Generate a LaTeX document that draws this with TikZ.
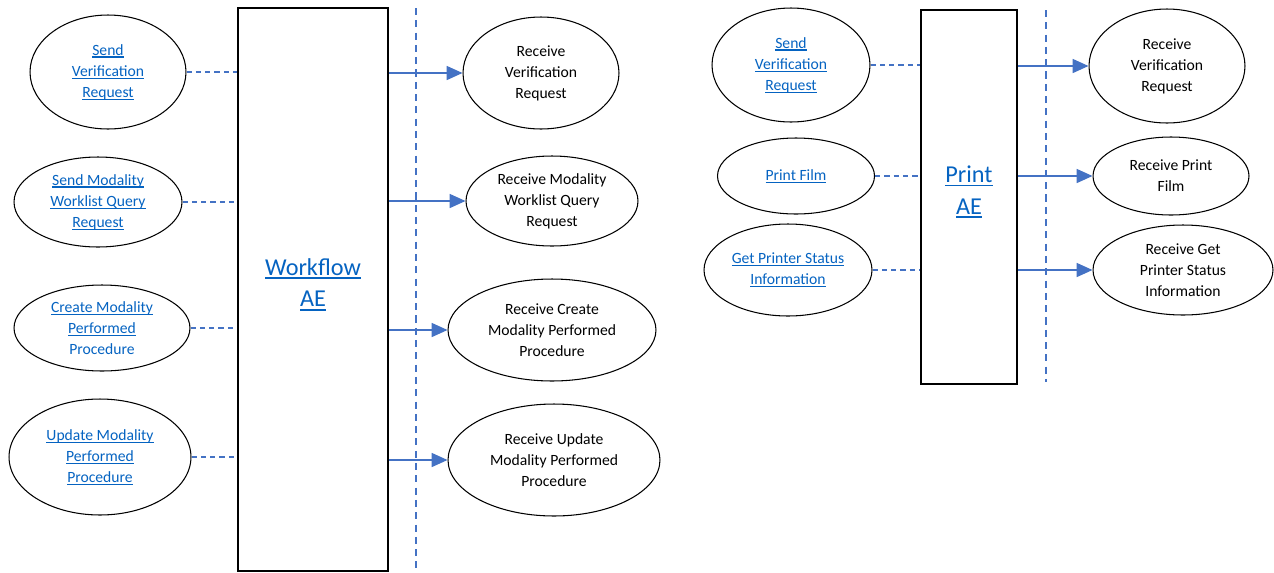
\documentclass[tikz,border=0pt]{standalone}
\usepackage{fontspec}
\setmainfont{Carlito}
\usepackage{tikz}
\usetikzlibrary{shapes.geometric}
\usetikzlibrary{arrows.meta}
\definecolor{linkblue}{RGB}{5,99,193}
\definecolor{lineblue}{RGB}{68,114,196}
\newcommand{\lnk}[1]{\setbox0\hbox{#1}\rlap{\rule[-0.16em]{\wd0}{0.07em}}\box0}

\begin{document}
\begin{tikzpicture}[x=0.02cm,y=-0.02cm]
  \tikzstyle{usecase}=[ellipse,draw,line width=0.6pt,inner sep=0pt,align=center,font=\fontsize{8.9}{12}\selectfont]
  \tikzstyle{link}=[usecase,text=linkblue]
  \tikzstyle{aebox}=[rectangle,draw,line width=1.1pt]
  \tikzstyle{aename}=[align=center,text=linkblue,font=\fontsize{13.8}{18}\selectfont,yshift=0.1cm]
  \tikzstyle{assoc}=[lineblue,line width=0.7pt,dash pattern=on 3pt off 2.3pt]
  \tikzstyle{call}=[lineblue,line width=0.7pt,-{Triangle[length=9pt,width=8pt]}]
  \tikzstyle{boundary}=[lineblue,line width=1.1pt,dash pattern=on 4pt off 3pt]
  \useasboundingbox (0,0) rectangle (1274,572);

  \node[aebox,minimum width=3cm,minimum height=11.26cm,label={[aename]center:{\lnk{Workflow}\\\lnk{AE}}}] (wf) at (313,289.5) {};
  \coordinate (wftop) at (416,8);
  \coordinate (wfbot) at (416,572);
  \draw[boundary] (wftop) -- (wfbot);

  \node[link,minimum width=3.12cm,minimum height=2.28cm] (sendver) at (108,72) {\lnk{Send}\\\lnk{Verification}\\\lnk{Request}};
  \draw[assoc] (sendver.east) -- (sendver.east -| wf.west);

  \node[link,minimum width=3.36cm,minimum height=1.8cm] (sendmwl) at (98,202) {\lnk{Send Modality}\\\lnk{Worklist Query}\\\lnk{Request}};
  \draw[assoc] (sendmwl.east) -- (sendmwl.east -| wf.west);

  \node[link,minimum width=3.52cm,minimum height=1.72cm] (creatempp) at (102,328) {\lnk{Create Modality}\\\lnk{Performed}\\Procedure};
  \draw[assoc] (creatempp.east) -- (creatempp.east -| wf.west);

  \node[link,minimum width=3.64cm,minimum height=2.32cm] (updatempp) at (100,457) {\lnk{Update Modality}\\\lnk{Performed}\\\lnk{Procedure}};
  \draw[assoc] (updatempp.east) -- (updatempp.east -| wf.west);

  \node[usecase,minimum width=3.12cm,minimum height=2.24cm] (recvver) at (541,73) {Receive\\Verification\\Request};
  \draw[call] (wf.east |- recvver.west) -- (recvver.west);

  \node[usecase,minimum width=3.44cm,minimum height=1.8cm] (recvmwl) at (552,201) {Receive Modality\\Worklist Query\\Request};
  \draw[call] (wf.east |- recvmwl.west) -- (recvmwl.west);

  \node[usecase,minimum width=4.16cm,minimum height=2.04cm] (recvcreate) at (552,330) {Receive Create\\Modality Performed\\Procedure};
  \draw[call] (wf.east |- recvcreate.west) -- (recvcreate.west);

  \node[usecase,minimum width=4.24cm,minimum height=2.24cm] (recvupdate) at (554,460) {Receive Update\\Modality Performed\\Procedure};
  \draw[call] (wf.east |- recvupdate.west) -- (recvupdate.west);

  \node[aebox,minimum width=1.92cm,minimum height=7.48cm,label={[aename]center:{\lnk{Print}\\\lnk{AE}}}] (pr) at (969,197) {};
  \coordinate (prtop) at (1046,10);
  \coordinate (prbot) at (1046,382);
  \draw[boundary] (prtop) -- (prbot);

  \node[link,minimum width=3.16cm,minimum height=2.28cm] (psendver) at (791,65) {\lnk{Send}\\\lnk{Verification}\\\lnk{Request}};
  \draw[assoc] (psendver.east) -- (psendver.east -| pr.west);

  \node[link,minimum width=3.14cm,minimum height=1.52cm] (printfilm) at (796,176) {\lnk{Print Film}};
  \draw[assoc] (printfilm.east) -- (printfilm.east -| pr.west);

  \node[link,minimum width=3.36cm,minimum height=1.84cm] (getstatus) at (788,270) {\lnk{Get Printer Status}\\\lnk{Information}};
  \draw[assoc] (getstatus.east) -- (getstatus.east -| pr.west);

  \node[usecase,minimum width=3.12cm,minimum height=2.28cm] (precvver) at (1167,66) {Receive\\Verification\\Request};
  \draw[call] (pr.east |- precvver.west) -- (precvver.west);

  \node[usecase,minimum width=3.12cm,minimum height=1.56cm] (recvfilm) at (1171,176) {Receive Print\\Film};
  \draw[call] (pr.east |- recvfilm.west) -- (recvfilm.west);

  \node[usecase,minimum width=3.6cm,minimum height=1.8cm] (recvstatus) at (1183,270) {Receive Get\\Printer Status\\Information};
  \draw[call] (pr.east |- recvstatus.west) -- (recvstatus.west);
\end{tikzpicture}
\end{document}
